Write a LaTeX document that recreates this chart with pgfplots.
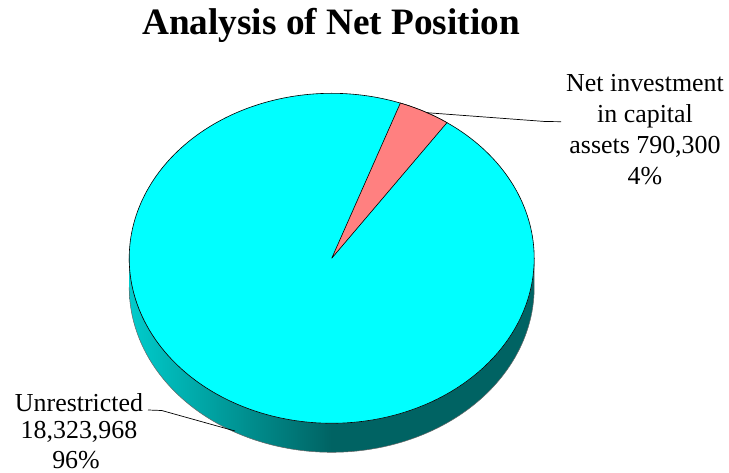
\documentclass[border=0pt]{standalone}
\usepackage{pgfplots}
\pgfplotsset{compat=1.18}
\usepackage{fontspec}
\setmainfont{Liberation Serif}
\definecolor{pcyan}{HTML}{00FFFF}
\definecolor{pred}{HTML}{FF8080}
\definecolor{sideL}{HTML}{00CCCC}
\definecolor{sideD}{HTML}{006363}
\pgfdeclarehorizontalshading{sideshade}{100bp}{color(0bp)=(sideL); color(25bp)=(sideL); color(50bp)=(sideD); color(100bp)=(sideD)}
% data
\def\valA{18323968}% Unrestricted
\def\valB{790300}% Net investment in capital assets
\edef\sliceB{\fpeval{360*\valB/(\valA+\valB)}}
\def\astart{55.3}
% geometry (pixel units)
\def\cx{331.7}
\def\cy{214.7}
\def\rx{202.5}
\def\ry{165}
\def\dd{29}
\begin{document}
\begin{tikzpicture}
\begin{axis}[width=729bp,height=473bp,scale only axis,
  xmin=0,xmax=729,ymin=0,ymax=473,hide axis,clip=false]
% side (front half)
\addplot[shade, shading=sideshade, draw=black!60, line width=0.5bp,
  samples=361, domain=0:360, variable=\t]
  ({\cx + \rx*cos(\t<=180 ? 180+\t : 540-\t)},
   {\cy + \ry*sin(\t<=180 ? 180+\t : 540-\t) - (\t<=180 ? 0 : \dd)});
% top ellipse (Unrestricted)
\addplot[fill=pcyan, draw=black, line width=0.6bp, samples=241, domain=0:360, variable=\t]
  ({\cx + \rx*cos(\t)}, {\cy + \ry*sin(\t)});
% Net investment slice
\addplot[fill=pred, draw=black, line width=0.6bp, samples=103, domain=-1:101, variable=\t]
  ({\cx + ((\t>-0.5)*(\t<100.5))*\rx*cos(\astart+\sliceB*\t/100)},
   {\cy + ((\t>-0.5)*(\t<100.5))*\ry*sin(\astart+\sliceB*\t/100)});
% leader lines
\addplot[black, line width=0.7bp] coordinates {(426.7,360.3) (545,351.5) (561,351.3)};
\addplot[black, line width=0.7bp] coordinates {(148,63) (161.7,62.5) (235,42)};
% labels
\node[anchor=base, font=\fontsize{37.4}{44}\selectfont\bfseries] at (axis cs:331,438) {Analysis of Net Position};
\node[anchor=base, font=\fontsize{26}{30}\selectfont] at (axis cs:645,381) {Net investment};
\node[anchor=base, font=\fontsize{26}{30}\selectfont] at (axis cs:645,350) {in capital};
\node[anchor=base, font=\fontsize{26}{30}\selectfont] at (axis cs:645,319) {assets 790,300};
\node[anchor=base, font=\fontsize{26}{30}\selectfont] at (axis cs:645,288) {4\%};
\node[anchor=base, font=\fontsize{26}{30}\selectfont] at (axis cs:79,61.5) {Unrestricted};
\node[anchor=base, font=\fontsize{26}{30}\selectfont] at (axis cs:79,34) {18,323,968};
\node[anchor=base, font=\fontsize{26}{30}\selectfont] at (axis cs:76,5) {96\%};
\end{axis}
\pgfresetboundingbox
\path[use as bounding box] (current axis.south west) rectangle (current axis.north east);
\end{tikzpicture}
\end{document}
